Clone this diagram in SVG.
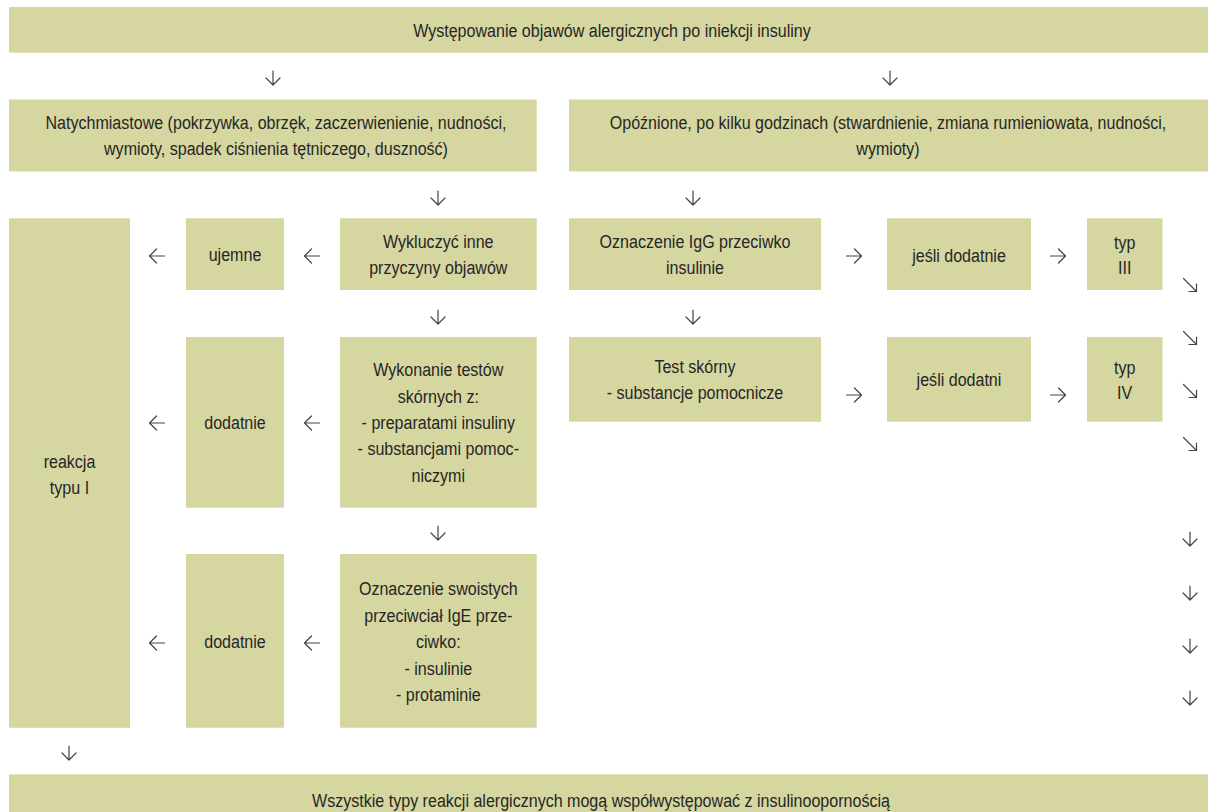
<svg xmlns="http://www.w3.org/2000/svg" xmlns:xlink="http://www.w3.org/1999/xlink" width="1208" height="812" viewBox="0 0 1208 812">
<style>
.box{fill:#d5d6a0}
.t{font-family:"Liberation Sans","Arial",sans-serif;font-size:19px;fill:#262626;text-anchor:middle}
.ar{fill:none;stroke:#444;stroke-width:1.2;stroke-linecap:round;stroke-linejoin:round}
</style>
<defs>
<path id="dn" class="ar" d="M0,-7 V7 M-7,0 L0,7 L7,0"/>
<path id="lf" class="ar" d="M7.5,0 H-7.5 M-0.5,-7 L-7.5,0 L-0.5,7"/>
<path id="rt" class="ar" d="M-7.5,0 H7.5 M0.5,-7 L7.5,0 L0.5,7"/>
<path id="dg" class="ar" d="M-6.5,-6.5 L6.5,6.5 M6.5,-1 V6.5 H-1"/>
</defs>
<rect width="1208" height="812" fill="#ffffff"/>
<g id="n0"><rect class="box" x="9" y="7" width="1199" height="45.7"/><g transform="translate(94.86,0) scale(0.845,1)"><text class="t" x="612" y="37">Występowanie objawów alergicznych po iniekcji insuliny</text></g></g>
<g id="n1"><rect class="box" x="9" y="99.5" width="527.7" height="72"/><g transform="translate(42.78,0) scale(0.845,1)"><text class="t" x="276" y="129">Natychmiastowe (pokrzywka, obrzęk, zaczerwienienie, nudności,</text><text class="t" x="276" y="155.5">wymioty, spadek ciśnienia tętniczego, duszność)</text></g></g>
<g id="n2"><rect class="box" x="569" y="99.5" width="639" height="72"/><g transform="translate(137.64,0) scale(0.845,1)"><text class="t" x="888" y="129">Opóźnione, po kilku godzinach (stwardnienie, zmiana rumieniowata, nudności,</text><text class="t" x="888" y="155.5">wymioty)</text></g></g>
<g id="n3"><rect class="box" x="9" y="218.3" width="121" height="509.5"/><g transform="translate(10.77,0) scale(0.845,1)"><text class="t" x="69.5" y="468.5">reakcja</text><text class="t" x="69.5" y="494.5">typu I</text></g></g>
<g id="n4"><rect class="box" x="186" y="218.3" width="98" height="71.7"/><g transform="translate(36.43,0) scale(0.845,1)"><text class="t" x="235" y="261.5">ujemne</text></g></g>
<g id="n5"><rect class="box" x="340" y="218.3" width="196.7" height="71.7"/><g transform="translate(67.94,0) scale(0.845,1)"><text class="t" x="438.3" y="248">Wykluczyć inne</text><text class="t" x="438.3" y="274.5">przyczyny objawów</text></g></g>
<g id="n6"><rect class="box" x="569" y="218.3" width="252" height="71.7"/><g transform="translate(107.73,0) scale(0.845,1)"><text class="t" x="695" y="248">Oznaczenie IgG przeciwko</text><text class="t" x="695" y="274.5">insulinie</text></g></g>
<g id="n7"><rect class="box" x="887" y="218.3" width="144" height="71.7"/><g transform="translate(148.65,0) scale(0.845,1)"><text class="t" x="959" y="262">jeśli dodatnie</text></g></g>
<g id="n8"><rect class="box" x="1087" y="218.3" width="75.5" height="71.7"/><g transform="translate(174.33,0) scale(0.845,1)"><text class="t" x="1124.7" y="249.5">typ</text><text class="t" x="1124.7" y="274.5">III</text></g></g>
<g id="n9"><rect class="box" x="186" y="337" width="98" height="170.7"/><g transform="translate(36.43,0) scale(0.845,1)"><text class="t" x="235" y="429.5">dodatnie</text></g></g>
<g id="n10"><rect class="box" x="340" y="337" width="196.7" height="170.7"/><g transform="translate(67.94,0) scale(0.845,1)"><text class="t" x="438.3" y="376.5">Wykonanie testów</text><text class="t" x="438.3" y="402.8">skórnych z:</text><text class="t" x="438.3" y="429.1">- preparatami insuliny</text><text class="t" x="438.3" y="455.4">- substancjami pomoc-</text><text class="t" x="438.3" y="481.7">niczymi</text></g></g>
<g id="n11"><rect class="box" x="569" y="337" width="252" height="84.7"/><g transform="translate(107.73,0) scale(0.845,1)"><text class="t" x="695" y="373.5">Test skórny</text><text class="t" x="695" y="399.5">- substancje pomocnicze</text></g></g>
<g id="n12"><rect class="box" x="887" y="337" width="144" height="84.7"/><g transform="translate(148.65,0) scale(0.845,1)"><text class="t" x="959" y="386.5">jeśli dodatni</text></g></g>
<g id="n13"><rect class="box" x="1087" y="337" width="75.5" height="84.7"/><g transform="translate(174.33,0) scale(0.845,1)"><text class="t" x="1124.7" y="374.5">typ</text><text class="t" x="1124.7" y="399.5">IV</text></g></g>
<g id="n14"><rect class="box" x="186" y="554" width="98" height="173.7"/><g transform="translate(36.43,0) scale(0.845,1)"><text class="t" x="235" y="648.5">dodatnie</text></g></g>
<g id="n15"><rect class="box" x="340" y="554" width="196.7" height="173.7"/><g transform="translate(67.94,0) scale(0.845,1)"><text class="t" x="438.3" y="595.5">Oznaczenie swoistych</text><text class="t" x="438.3" y="622">przeciwciał IgE prze-</text><text class="t" x="438.3" y="648.5">ciwko:</text><text class="t" x="438.3" y="675">- insulinie</text><text class="t" x="438.3" y="701.5">- protaminie</text></g></g>
<g id="n16"><rect class="box" x="9" y="774.3" width="1199" height="38"/><g transform="translate(93.16,0) scale(0.845,1)"><text class="t" x="601" y="807.5">Wszystkie typy reakcji alergicznych mogą współwystępować z insulinoopornością</text></g></g>
<g id="connectors">
<use xlink:href="#dn" x="273" y="78"/>
<use xlink:href="#dn" x="890" y="78"/>
<use xlink:href="#dn" x="438" y="198"/>
<use xlink:href="#dn" x="693" y="198"/>
<use xlink:href="#lf" x="157" y="256"/>
<use xlink:href="#lf" x="312" y="256"/>
<use xlink:href="#rt" x="854" y="256"/>
<use xlink:href="#rt" x="1058" y="256"/>
<use xlink:href="#dn" x="438" y="317"/>
<use xlink:href="#dn" x="693" y="317"/>
<use xlink:href="#lf" x="157" y="423"/>
<use xlink:href="#lf" x="312" y="423"/>
<use xlink:href="#rt" x="854" y="395"/>
<use xlink:href="#rt" x="1058" y="395"/>
<use xlink:href="#dg" x="1190" y="285"/>
<use xlink:href="#dg" x="1190" y="338"/>
<use xlink:href="#dg" x="1190" y="391"/>
<use xlink:href="#dg" x="1190" y="444"/>
<use xlink:href="#dn" x="1190" y="539"/>
<use xlink:href="#dn" x="1190" y="593"/>
<use xlink:href="#dn" x="1190" y="646"/>
<use xlink:href="#dn" x="1190" y="698"/>
<use xlink:href="#dn" x="438" y="533"/>
<use xlink:href="#lf" x="157" y="643"/>
<use xlink:href="#lf" x="312" y="643"/>
<use xlink:href="#dn" x="69" y="753"/>
</g>
</svg>
